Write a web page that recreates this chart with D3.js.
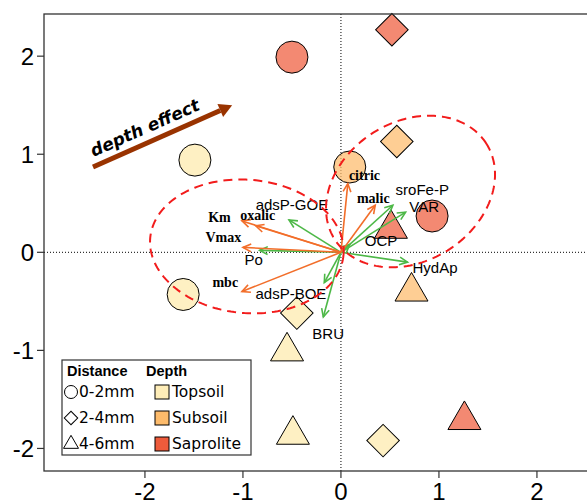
<!DOCTYPE html>
<html>
<head>
<meta charset="utf-8">
<script src="https://cdn.jsdelivr.net/npm/d3@7"></script>
<style>
  html, body { margin: 0; padding: 0; background: #fff; }
  svg { display: block; }
</style>
</head>
<body>
<svg id="chart" width="587" height="502"></svg>
<script>
// ---- Sample scores on the first two ordination axes ----
const sampleX = [-1.49, -1.61, 0.09, -0.50, 0.93, 0.52, 0.57, -0.45, 0.43, 0.51, 0.72, -0.55, -0.49, 1.26];
const sampleY = [0.94, -0.43, 0.87, 1.99, 0.37, 2.27, 1.13, -0.62, -1.92, 0.24, -0.40, -1.01, -1.86, -1.71];
const sampleDistance = ["0-2mm", "0-2mm", "0-2mm", "0-2mm", "0-2mm",
                        "2-4mm", "2-4mm", "2-4mm", "2-4mm",
                        "4-6mm", "4-6mm", "4-6mm", "4-6mm", "4-6mm"];
const sampleDepth = ["Topsoil", "Topsoil", "Subsoil", "Saprolite", "Saprolite",
                     "Saprolite", "Subsoil", "Topsoil", "Topsoil",
                     "Saprolite", "Subsoil", "Topsoil", "Topsoil", "Saprolite"];

// ---- Biological variables (orange vectors) ----
const bioNames = ["Km", "oxalic", "Vmax", "mbc", "citric", "malic"];
const bioX = [-1.01, -0.87, -1.00, -1.01, 0.07, 0.35];
const bioY = [0.32, 0.27, 0.05, -0.40, 0.70, 0.48];

// ---- Phosphorus / mineral variables (green vectors) ----
const chemNames = ["adsP-GOE", "Po", "adsP-BOE", "BRU", "sroFe-P", "VAR", "OCP", "HydAp"];
const chemX = [-0.53, -0.83, -0.17, -0.18, 0.53, 0.66, 0.09, 0.68];
const chemY = [0.33, 0.02, -0.31, -0.66, 0.48, 0.41, 0.08, -0.10];

// ---- Legend levels and axis ticks ----
const distanceLevels = ["0-2mm", "2-4mm", "4-6mm"];
const depthLevels = ["Topsoil", "Subsoil", "Saprolite"];
const xTicks = [-2, -1, 0, 1, 2];
const yTicks = [-2, -1, 0, 1, 2];

// ---- Layout: label anchors (axis units) ----
const bioLabelX = [-1.24, -0.85, -1.20, -1.18, 0.24, 0.33];
const bioLabelY = [0.36, 0.38, 0.15, -0.31, 0.78, 0.55];
const chemLabelX = [-0.50, -0.89, -0.51, -0.13, 0.83, 0.85, 0.41, 0.96];
const chemLabelY = [0.49, -0.07, -0.42, -0.83, 0.64, 0.47, 0.12, -0.16];

// Group ellipses (centre, semi-axes, rotation in degrees, axis units)
const ellipses = [
  { cx: -0.96, cy: 0.06, a: 0.99, b: 0.68, angle: -5 },
  { cx: 0.71, cy: 0.62, a: 0.915, b: 0.71, angle: 32 }
];
// Depth-effect annotation arrow (axis units)
const depthArrow = { x1: -2.53, y1: 0.87, x2: -1.11, y2: 1.50 };

// ---- Styles ----
const depthFill = { Topsoil: "#FEEDB8", Subsoil: "#FDBB6B", Saprolite: "#EE5B3B" };
const orange = "#F26E2A";
const green = "#4DB847";

const svg = d3.select("#chart");
const W = 587, H = 502;
const box = { left: 44, top: 14, right: 640, bottom: 471 };

const x = d3.scaleLinear().domain([-3.03, 3.05]).range([box.left, box.left + 6.08 * 98]);
const y = d3.scaleLinear().domain([-2.23, 2.43]).range([box.bottom, box.top]);

// Zero reference lines
svg.append("line")
  .attr("x1", box.left).attr("x2", box.right)
  .attr("y1", y(0)).attr("y2", y(0))
  .attr("stroke", "#000").attr("stroke-width", 1).attr("stroke-dasharray", "1,2");
svg.append("line")
  .attr("x1", x(0)).attr("x2", x(0))
  .attr("y1", box.top).attr("y2", box.bottom)
  .attr("stroke", "#000").attr("stroke-width", 1).attr("stroke-dasharray", "1,2");

// Sample points
const shapeOf = {
  "0-2mm": d3.symbol().type(d3.symbolCircle).size(Math.PI * 16 * 16),
  "2-4mm": d3.symbol().type(d3.symbolSquare).size(23 * 23),
  "4-6mm": d3.symbol().type(d3.symbolTriangle).size(Math.sqrt(3) / 4 * 33 * 33)
};
const samples = sampleX.map((v, i) => ({ x: v, y: sampleY[i], dist: sampleDistance[i], depth: sampleDepth[i] }));
svg.append("g").selectAll("path")
  .data(samples).join("path")
  .attr("d", d => shapeOf[d.dist]())
  .attr("transform", d => `translate(${x(d.x)},${y(d.y)})` + (d.dist === "2-4mm" ? " rotate(45)" : ""))
  .attr("fill", d => depthFill[d.depth])
  .attr("fill-opacity", d => d.depth === "Topsoil" ? 0.85 : 0.72)
  .attr("stroke", "#000").attr("stroke-width", 1);

// Vectors with open arrow heads
function drawVectors(names, xs, ys, color) {
  const g = svg.append("g").attr("stroke", color).attr("stroke-width", 1.6).attr("fill", "none");
  names.forEach((n, i) => {
    const x0 = x(0), y0 = y(0), x1 = x(xs[i]), y1 = y(ys[i]);
    g.append("line").attr("x1", x0).attr("y1", y0).attr("x2", x1).attr("y2", y1);
    const ang = Math.atan2(y1 - y0, x1 - x0);
    const len = 9, spread = Math.PI / 7;
    const p = d3.path();
    p.moveTo(x1 - len * Math.cos(ang - spread), y1 - len * Math.sin(ang - spread));
    p.lineTo(x1, y1);
    p.lineTo(x1 - len * Math.cos(ang + spread), y1 - len * Math.sin(ang + spread));
    g.append("path").attr("d", p.toString());
  });
}
drawVectors(chemNames, chemX, chemY, green);
drawVectors(bioNames, bioX, bioY, orange);

// Vector labels
svg.append("g").selectAll("text")
  .data(chemNames).join("text")
  .attr("x", (d, i) => x(chemLabelX[i]))
  .attr("y", (d, i) => y(chemLabelY[i]))
  .attr("text-anchor", "middle").attr("dominant-baseline", "central")
  .attr("font-family", "Liberation Sans, Arial, sans-serif")
  .attr("font-size", 15).attr("fill", "#000")
  .text(d => d);
svg.append("g").selectAll("text")
  .data(bioNames).join("text")
  .attr("x", (d, i) => x(bioLabelX[i]))
  .attr("y", (d, i) => y(bioLabelY[i]))
  .attr("text-anchor", "middle").attr("dominant-baseline", "central")
  .attr("font-family", "Liberation Serif, Times New Roman, serif")
  .attr("font-weight", "bold")
  .attr("font-size", 14).attr("fill", "#000")
  .text(d => d);

// Group ellipses
const ellLine = d3.line().x(p => x(p[0])).y(p => y(p[1])).curve(d3.curveLinearClosed);
ellipses.forEach(e => {
  const th = e.angle * Math.PI / 180;
  const pts = d3.range(0, 2 * Math.PI, Math.PI / 90).map(t => [
    e.cx + e.a * Math.cos(t) * Math.cos(th) - e.b * Math.sin(t) * Math.sin(th),
    e.cy + e.a * Math.cos(t) * Math.sin(th) + e.b * Math.sin(t) * Math.cos(th)
  ]);
  svg.append("path").attr("d", ellLine(pts))
    .attr("fill", "none").attr("stroke", "#F21C1C").attr("stroke-width", 2)
    .attr("stroke-dasharray", "9,6");
});

// Depth effect arrow
{
  const ax1 = x(depthArrow.x1), ay1 = y(depthArrow.y1), ax2 = x(depthArrow.x2), ay2 = y(depthArrow.y2);
  const ang = Math.atan2(ay2 - ay1, ax2 - ax1);
  const headLen = 13, headW = 7;
  const bx = ax2 - headLen * Math.cos(ang), by = ay2 - headLen * Math.sin(ang);
  svg.append("line").attr("x1", ax1).attr("y1", ay1).attr("x2", bx).attr("y2", by)
    .attr("stroke", "#993300").attr("stroke-width", 5);
  const nx = -Math.sin(ang), ny = Math.cos(ang);
  svg.append("path")
    .attr("d", `M${ax2},${ay2}L${bx + nx * headW},${by + ny * headW}L${bx - nx * headW},${by - ny * headW}Z`)
    .attr("fill", "#993300");
  const mx = (ax1 + bx) / 2, my = (ay1 + by) / 2;
  svg.append("text")
    .attr("transform", `translate(${mx - 7 + nx * -6},${my + ny * -6}) rotate(${ang * 180 / Math.PI})`)
    .attr("text-anchor", "middle")
    .attr("font-family", "DejaVu Sans, Verdana, sans-serif")
    .attr("font-weight", "bold").attr("font-style", "italic")
    .attr("font-size", 17).attr("fill", "#000")
    .text("depth effect");
}

// Frame
svg.append("rect")
  .attr("x", box.left).attr("y", box.top)
  .attr("width", box.right - box.left).attr("height", box.bottom - box.top)
  .attr("fill", "none").attr("stroke", "#333").attr("stroke-width", 1.3);

// Axes
const axisFont = "Liberation Sans, Arial, sans-serif";
svg.append("g").selectAll("line").data(yTicks).join("line")
  .attr("x1", box.left - 7).attr("x2", box.left)
  .attr("y1", d => y(d)).attr("y2", d => y(d))
  .attr("stroke", "#333").attr("stroke-width", 1.2);
svg.append("g").selectAll("text").data(yTicks).join("text")
  .attr("x", box.left - 10).attr("y", d => y(d))
  .attr("text-anchor", "end").attr("dominant-baseline", "central")
  .attr("font-family", axisFont).attr("font-size", 24).attr("fill", "#000")
  .text(d => d);
svg.append("g").selectAll("line").data(xTicks).join("line")
  .attr("x1", d => x(d)).attr("x2", d => x(d))
  .attr("y1", box.bottom).attr("y2", box.bottom + 7)
  .attr("stroke", "#333").attr("stroke-width", 1.2);
svg.append("g").selectAll("text").data(xTicks).join("text")
  .attr("x", d => x(d)).attr("y", box.bottom + 29)
  .attr("text-anchor", "middle")
  .attr("font-family", axisFont).attr("font-size", 24).attr("fill", "#000")
  .text(d => d);

// Legend
const lg = svg.append("g").attr("transform", "translate(62,360)");
lg.append("rect").attr("width", 189).attr("height", 95)
  .attr("fill", "#fff").attr("stroke", "#333").attr("stroke-width", 1.2);
lg.append("text").attr("x", 5).attr("y", 16)
  .attr("font-family", "Liberation Sans, Arial, sans-serif").attr("font-weight", "bold")
  .attr("font-size", 14.5).text("Distance");
lg.append("text").attr("x", 84).attr("y", 16)
  .attr("font-family", "Liberation Sans, Arial, sans-serif").attr("font-weight", "bold")
  .attr("font-size", 14.5).text("Depth");
const legendSym = {
  "0-2mm": d3.symbol().type(d3.symbolCircle).size(Math.PI * 6.5 * 6.5),
  "2-4mm": d3.symbol().type(d3.symbolSquare).size(9.5 * 9.5),
  "4-6mm": d3.symbol().type(d3.symbolTriangle).size(Math.sqrt(3) / 4 * 15 * 15)
};
distanceLevels.forEach((lev, i) => {
  const cy = 32 + i * 26;
  lg.append("path").attr("d", legendSym[lev]())
    .attr("transform", `translate(9,${cy})` + (lev === "2-4mm" ? " rotate(45)" : ""))
    .attr("fill", "none").attr("stroke", "#000").attr("stroke-width", 1);
  lg.append("text").attr("x", 17).attr("y", cy).attr("dominant-baseline", "central")
    .attr("font-family", "DejaVu Sans, Verdana, sans-serif").attr("font-size", 15.5)
    .text(lev);
});
depthLevels.forEach((lev, i) => {
  const cy = 32 + i * 26;
  lg.append("rect").attr("x", 93).attr("y", cy - 7).attr("width", 14).attr("height", 14)
    .attr("fill", depthFill[lev]).attr("stroke", "#000").attr("stroke-width", 1);
  lg.append("text").attr("x", 110).attr("y", cy).attr("dominant-baseline", "central")
    .attr("font-family", "DejaVu Sans, Verdana, sans-serif").attr("font-size", 15.5)
    .text(lev);
});
</script>
</body>
</html>
